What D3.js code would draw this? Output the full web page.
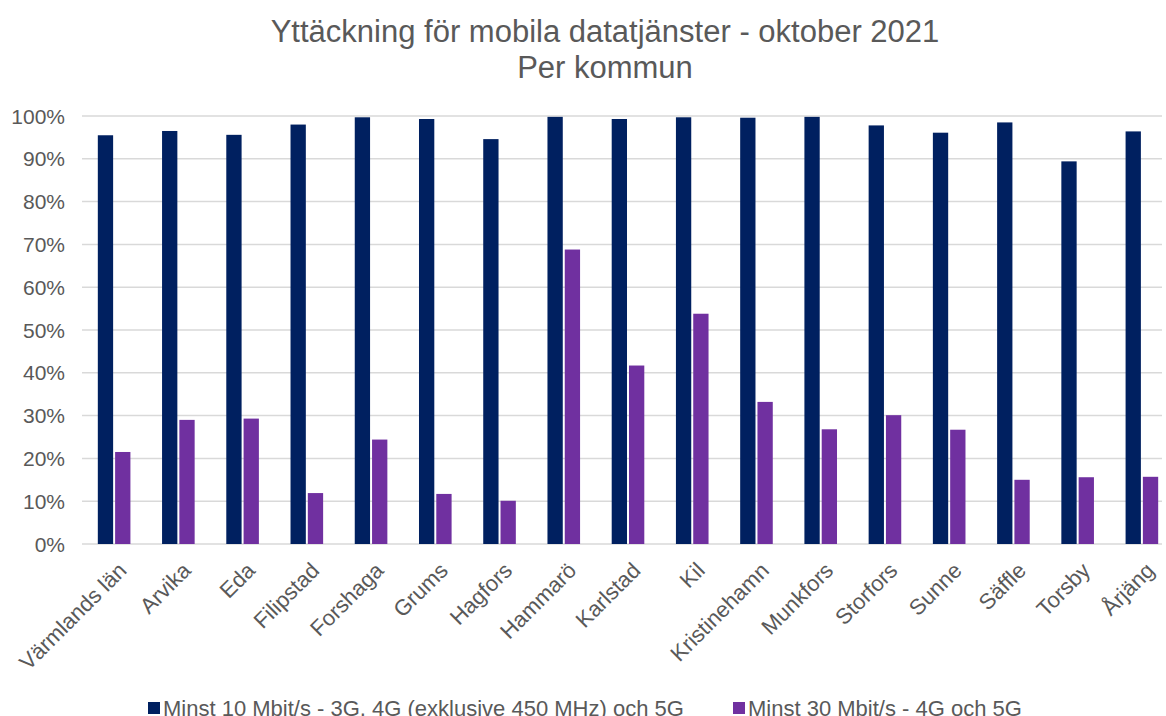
<!DOCTYPE html>
<html>
<head>
<meta charset="utf-8">
<script src="https://d3js.org/d3.v7.min.js"></script>
<style>
  body { margin: 0; background: #fff; }
  text { font-family: "Liberation Sans", Arial, sans-serif; fill: #595959; }
</style>
</head>
<body>
<svg id="chart" width="1166" height="716"></svg>
<script>
// data
var kommuner = ["Värmlands län", "Arvika", "Eda", "Filipstad", "Forshaga", "Grums", "Hagfors",
  "Hammarö", "Karlstad", "Kil", "Kristinehamn", "Munkfors", "Storfors", "Sunne", "Säffle", "Torsby", "Årjäng"];
var minst10 = [95.5, 96.5, 95.6, 98.0, 99.7, 99.3, 94.6, 99.8, 99.3, 99.7, 99.6, 99.8, 97.8, 96.1, 98.5, 89.4, 96.4];
var minst30 = [21.5, 29.0, 29.3, 11.9, 24.4, 11.7, 10.1, 68.8, 41.7, 53.8, 33.2, 26.8, 30.1, 26.7, 15.0, 15.6, 15.7];
var serieNamn = ["Minst 10 Mbit/s - 3G, 4G (exklusive 450 MHz) och 5G", "Minst 30 Mbit/s - 4G och 5G"];
var yTicks = [0, 10, 20, 30, 40, 50, 60, 70, 80, 90, 100];
var farger = ["#002060", "#7030A0"];

var svg = d3.select("#chart");
var plotL = 82, plotR = 1174, plotT = 116, plotB = 544;

var x = d3.scaleBand().domain(kommuner).range([plotL, plotR]);
var y = d3.scaleLinear().domain([0, 100]).range([plotB, plotT]);
var inner = d3.scaleBand().domain([0, 1]).range([0, 32.6]).paddingInner(0.115);

// title
svg.append("text").attr("x", 605).attr("y", 42).attr("text-anchor", "middle")
  .style("font-size", "31px").text("Yttäckning för mobila datatjänster - oktober 2021");
svg.append("text").attr("x", 605).attr("y", 78).attr("text-anchor", "middle")
  .style("font-size", "31px").text("Per kommun");

// gridlines
svg.append("g").selectAll("line").data(yTicks).enter().append("line")
  .attr("x1", plotL).attr("x2", 1162)
  .attr("y1", function(d) { return y(d); }).attr("y2", function(d) { return y(d); })
  .attr("stroke", "#d9d9d9").attr("stroke-width", 1.5);

// y labels
svg.append("g").selectAll("text").data(yTicks).enter().append("text")
  .attr("x", 65).attr("y", function(d) { return y(d); }).attr("dy", "0.36em")
  .attr("text-anchor", "end").style("font-size", "21px")
  .text(function(d) { return d + "%"; });

// bars
var serier = [minst10, minst30];
serier.forEach(function(vals, s) {
  svg.append("g").selectAll("rect").data(vals).enter().append("rect")
    .attr("x", function(d, i) { return x(kommuner[i]) + (x.bandwidth() - 32.6) / 2 + inner(s); })
    .attr("width", inner.bandwidth())
    .attr("y", function(d) { return y(d); })
    .attr("height", function(d) { return plotB - y(d); })
    .attr("fill", farger[s]);
});

// x labels
svg.append("g").selectAll("text").data(kommuner).enter().append("text")
  .attr("transform", function(d) {
    return "translate(" + (x(d) + x.bandwidth() / 2 + 3) + "," + 561 + ") rotate(-45)";
  })
  .attr("text-anchor", "end").attr("dy", "0.7em").style("font-size", "22px")
  .text(function(d) { return d; });

// legend
var legX = [148, 733];
serieNamn.forEach(function(n, s) {
  svg.append("rect").attr("x", legX[s]).attr("y", 702).attr("width", 12).attr("height", 12)
    .attr("fill", farger[s]);
  svg.append("text").attr("x", legX[s] + 15).attr("y", 716).style("font-size", "22px").text(n);
});
</script>
</body>
</html>
